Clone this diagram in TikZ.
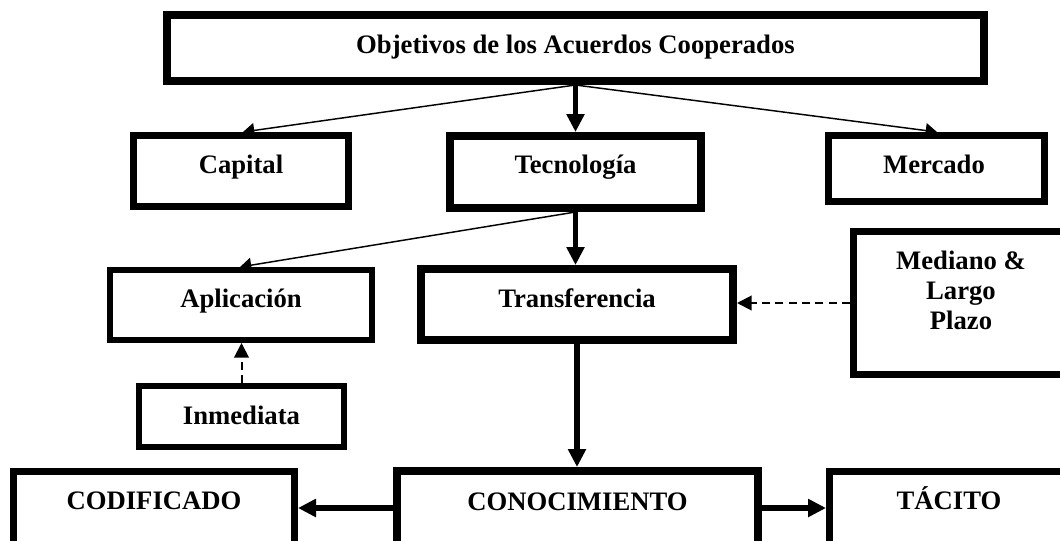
\documentclass[tikz,border=0pt]{standalone}
\usepackage{fontspec}
\setmainfont{Liberation Serif}
\usetikzlibrary{arrows.meta,fit}
\begin{document}
\begin{tikzpicture}[x=0.75pt,y=-0.75pt,
  boxn/.style={draw, line width=4.5pt, inner sep=0pt},
  boxk/.style={draw, line width=6pt, inner sep=0pt},
  boxm/.style={draw, line width=5.25pt, inner sep=0pt},
  lbl/.style={font=\fontsize{20}{22.5}\selectfont\bfseries, inner sep=0pt, align=center},
  thinarrow/.style={line width=1.1pt, -{Triangle[length=8.5pt,width=11pt]}},
  thickarrow/.style={line width=4.2pt, -{Triangle[length=13.5pt,width=13pt]}},
  dasharrow/.style={line width=1.5pt, dash pattern=on 6pt off 4pt, -{Triangle[length=11pt,width=11pt]}}
]
\useasboundingbox (0,0) rectangle (1060,540);

% boxes
\node[boxk, fit={(167,15)(984,81)}] (top) {};
\node[boxm, fit={(133.5,135.5)(348.5,206.5)}] (cap) {};
\node[boxk, fit={(450,136)(701,208)}] (tec) {};
\node[boxm, fit={(828.5,135.5)(1044.5,201.5)}] (mer) {};
\node[boxn, fit={(110,270)(372,340)}] (apl) {};
\node[boxk, fit={(421,269)(733,340)}] (tra) {};
\node[boxm, fit={(853.5,231.5)(1075,374.5)}] (med) {};
\node[boxn, fit={(139,386)(344,447)}] (inm) {};
\node[boxm, fit={(13.5,471.5)(294.5,565)}] (cod) {};
\node[boxk, fit={(397,471)(758,565)}] (con) {};
\node[boxm, fit={(829.5,471.5)(1075,565)}] (tac) {};

% labels
\node[lbl, anchor=base] (tTop) at (575.5,53) {Objetivos de los Acuerdos Cooperados};
\node[lbl, anchor=base] (tCap) at (241,173) {Capital};
\node[lbl, anchor=base] (tTec) at (575.5,173) {Tecnología};
\node[lbl, anchor=base] (tMer) at (934,173) {Mercado};
\node[lbl, anchor=base] (tApl) at (241,307) {Aplicación};
\node[lbl, anchor=base] (tTra) at (577,307) {Transferencia};
\node[lbl, anchor=base] (tMed1) at (961,269) {Mediano \&};
\node[lbl, anchor=base] (tMed2) at (961,299) {Largo};
\node[lbl, anchor=base] (tMed3) at (961,329) {Plazo};
\node[lbl, anchor=base] (tInm) at (241.5,424) {Inmediata};
\node[lbl, anchor=base] (tCod) at (154,509) {CODIFICADO};
\node[lbl, anchor=base] (tCon) at (577.5,510) {CONOCIMIENTO};
\node[lbl, anchor=base] (tTac) at (949,509) {TÁCITO};

% connectors
\draw[thinarrow] (top.south) -- (cap.north -| 243,0);
\draw[thinarrow] (top.south) -- (mer.north -| 937,0);
\draw[thickarrow] (top.south) -- (top.south |- tec.north);
\draw[thinarrow] (tec.south) -- (apl.north -| 240,0);
\draw[thickarrow] (tec.south) -- (tec.south |- tra.north);
\draw[dasharrow] (med.west |- 0,303) -- (tra.east |- 0,303);
\draw[dasharrow] (inm.north) -- (inm.north |- apl.south);
\draw[thickarrow] (tra.south) -- (tra.south |- con.north);
\draw[thickarrow] (con.west |- 0,508) -- (cod.east |- 0,508);
\draw[thickarrow] (con.east |- 0,508) -- (tac.west |- 0,508);
\end{tikzpicture}
\end{document}
